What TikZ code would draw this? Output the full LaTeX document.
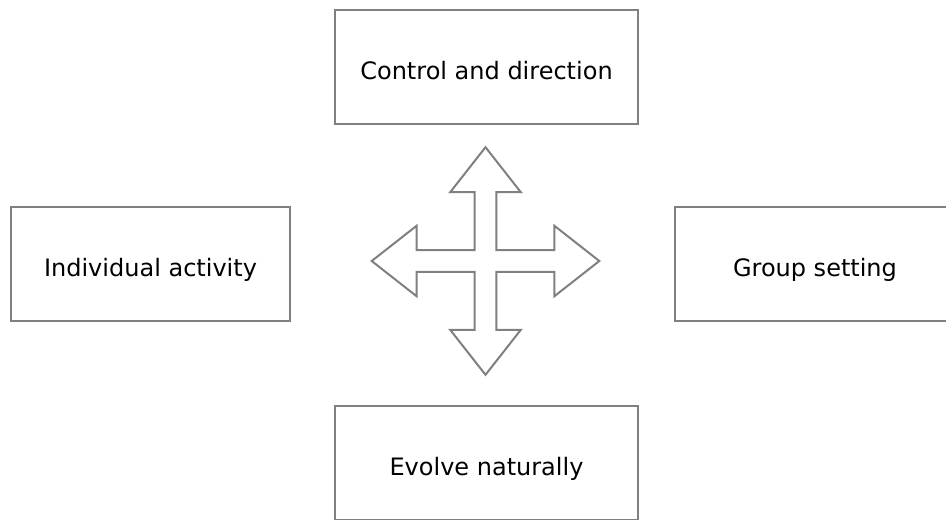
\documentclass[tikz,border=0pt]{standalone}
\usepackage{fontspec}
\setmainfont{DejaVu Sans}
\usetikzlibrary{calc}
\newlength\px
\setlength\px{0.75pt}
\definecolor{edgegray}{HTML}{808080}
\tikzset{
  labelbox/.style={draw=edgegray, line width=2\px, fill=white, inner sep=0pt,
    font=\fontsize{18pt}{21pt}\selectfont, text=black, minimum height=114\px,
    text height=19.1pt, text depth=0pt},
  crossshape/.style={draw=edgegray, line width=2\px, fill=white, line join=miter}
}
\begin{document}
\begin{tikzpicture}[x=0.75pt, y=-0.75pt]
\useasboundingbox (0,0) rectangle (946,519);
\fill[white] (0,0) rectangle (946,519);
\node[labelbox, minimum width=303\px] (top) at (486.5,67) {Control and direction};
\node[labelbox, minimum width=279\px] (left) at (150.5,264) {Individual activity};
\node[labelbox, minimum width=280\px] (right) at (815,264) {Group setting};
\node[labelbox, minimum width=303\px] (bottom) at (486.5,462.5) {Evolve naturally};
\coordinate (c) at (485.5,261);
\def\w{10.8}\def\h{35.3}\def\L{113.8}\def\b{68.8}
\draw[crossshape]
  ($(c)+(0,-\L)$) -- ($(c)+(\h,-\b)$) -- ($(c)+(\w,-\b)$) -- ($(c)+(\w,-\w)$)
  -- ($(c)+(\b,-\w)$) -- ($(c)+(\b,-\h)$) -- ($(c)+(\L,0)$) -- ($(c)+(\b,\h)$)
  -- ($(c)+(\b,\w)$) -- ($(c)+(\w,\w)$) -- ($(c)+(\w,\b)$) -- ($(c)+(\h,\b)$)
  -- ($(c)+(0,\L)$) -- ($(c)+(-\h,\b)$) -- ($(c)+(-\w,\b)$) -- ($(c)+(-\w,\w)$)
  -- ($(c)+(-\b,\w)$) -- ($(c)+(-\b,\h)$) -- ($(c)+(-\L,0)$) -- ($(c)+(-\b,-\h)$)
  -- ($(c)+(-\b,-\w)$) -- ($(c)+(-\w,-\w)$) -- ($(c)+(-\w,-\b)$) -- ($(c)+(-\h,-\b)$)
  -- cycle;
\end{tikzpicture}
\end{document}
